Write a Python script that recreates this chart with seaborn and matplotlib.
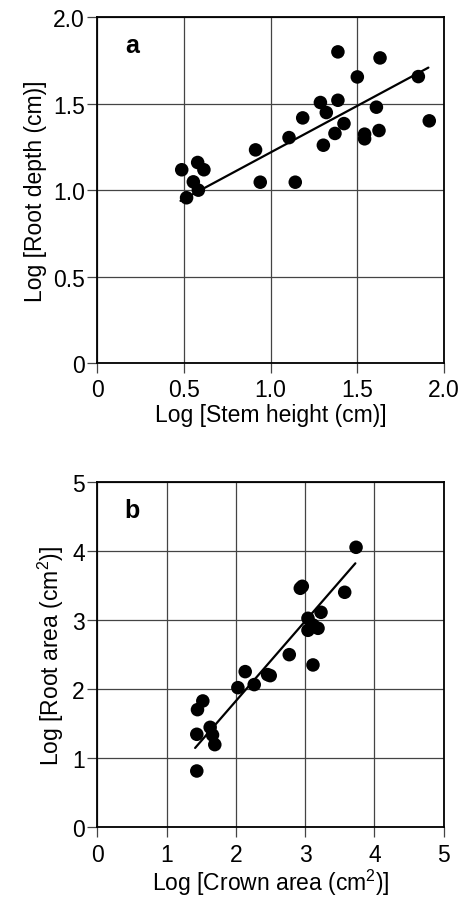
import numpy as np
import pandas as pd
import matplotlib
matplotlib.use("Agg")
import matplotlib.pyplot as plt
import seaborn as sns

# Panel a data: Log stem height vs Log root depth
stem_height = [0.487, 0.579, 0.615, 0.554, 0.583, 0.515, 0.913, 0.940, 1.142, 1.106,
               1.185, 1.287, 1.321, 1.304, 1.388, 1.371, 1.423, 1.388, 1.500, 1.631,
               1.610, 1.542, 1.542, 1.625, 1.852, 1.915]
root_depth = [1.118, 1.160, 1.118, 1.048, 1.000, 0.956, 1.233, 1.046, 1.046, 1.304,
              1.418, 1.507, 1.449, 1.260, 1.520, 1.328, 1.385, 1.800, 1.655, 1.765,
              1.480, 1.324, 1.297, 1.345, 1.657, 1.401]
fit_a_x = [0.48, 1.91]
fit_a_y = [0.938, 1.709]

# Panel b data: Log crown area vs Log root area
crown_area = [1.436, 1.436, 1.446, 1.523, 1.629, 1.663, 1.696, 2.029, 2.135, 2.265,
              2.458, 2.496, 2.771, 2.930, 2.959, 3.041, 3.041, 3.113, 3.186, 3.229,
              3.113, 3.571, 3.735]
root_area = [0.816, 1.348, 1.705, 1.831, 1.449, 1.338, 1.198, 2.024, 2.256, 2.068,
             2.213, 2.198, 2.502, 3.464, 3.493, 3.029, 2.855, 2.932, 2.884, 3.116,
             2.353, 3.406, 4.058]
fit_b_x = [1.412, 3.725]
fit_b_y = [1.150, 3.826]

ticks_a = [0, 0.5, 1.0, 1.5, 2.0]
ticklabels_a = ["0", "0.5", "1.0", "1.5", "2.0"]
ticks_b = [0, 1, 2, 3, 4, 5]
ticklabels_b = ["0", "1", "2", "3", "4", "5"]

sns.set_style("white")
plt.rcParams["font.family"] = ["Liberation Sans", "DejaVu Sans"]
plt.rcParams["mathtext.fontset"] = "custom"
plt.rcParams["mathtext.rm"] = "Liberation Sans"
plt.rcParams["text.color"] = "black"
plt.rcParams["axes.labelcolor"] = "black"
plt.rcParams["xtick.color"] = "black"
plt.rcParams["ytick.color"] = "black"

fig = plt.figure(figsize=(4.65, 9.04), dpi=100)
W, H = 465, 904
def rect(l, t, r, b):
    return [l / W, 1 - b / H, (r - l) / W, (b - t) / H]

ax_a = fig.add_axes(rect(97.3, 18.3, 444, 364))
ax_b = fig.add_axes(rect(97.3, 483.3, 443.7, 828.3))

df_a = pd.DataFrame({"x": stem_height, "y": root_depth})
df_b = pd.DataFrame({"x": crown_area, "y": root_area})
fa = pd.DataFrame({"x": fit_a_x, "y": fit_a_y})
fb = pd.DataFrame({"x": fit_b_x, "y": fit_b_y})

fs = 16.5
for ax, df, fdf, ticks, tl, lim, xl, yl, letter in [
    (ax_a, df_a, fa, ticks_a, ticklabels_a, (0, 2.0),
     "Log [Stem height (cm)]", "Log [Root depth (cm)]", "a"),
    (ax_b, df_b, fb, ticks_b, ticklabels_b, (0, 5),
     "Log [Crown area (cm$^2$)]", "Log [Root area (cm$^2$)]", "b"),
]:
    sns.lineplot(data=fdf, x="x", y="y", ax=ax, color="black", linewidth=1.6, zorder=3)
    sns.scatterplot(data=df, x="x", y="y", ax=ax, color="black", s=95,
                    edgecolor="none", zorder=4)
    ax.set_xlim(*lim)
    ax.set_ylim(*lim)
    ax.set_xticks(ticks)
    ax.set_yticks(ticks)
    ax.set_xticklabels(tl, fontsize=fs)
    ax.set_yticklabels(tl, fontsize=fs)
    ax.grid(True, color="#444444", linewidth=0.9)
    ax.set_axisbelow(True)
    for sp in ax.spines.values():
        sp.set_color("black")
        sp.set_linewidth(1.3)
    ax.tick_params(axis="both", which="major", bottom=True, left=True,
                   direction="out", length=7, width=0.9, color="#444444",
                   labelcolor="black")
    ax.tick_params(axis="x", pad=4)
    ax.tick_params(axis="y", pad=2)
    ax.set_xlabel(xl, fontsize=fs, labelpad=1, color="black")
    ax.set_ylabel(yl, fontsize=fs, labelpad=4, color="black")
    ax.text(0.10, 0.92, letter, transform=ax.transAxes, fontsize=18,
            fontweight="bold", ha="center", va="center", color="black")

fig.savefig("out.png", dpi=100)
